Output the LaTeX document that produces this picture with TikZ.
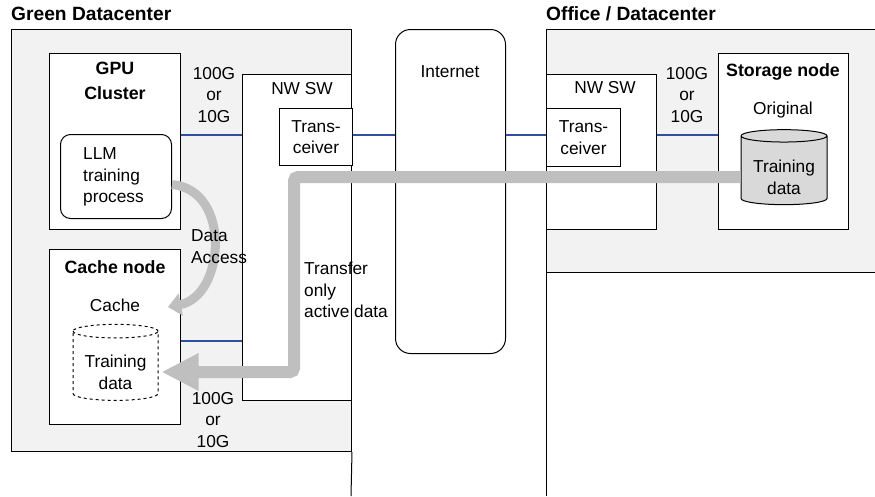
\documentclass[tikz,border=0pt]{standalone}
\usepackage{fontspec}
\setmainfont{Liberation Sans}
\usetikzlibrary{shapes.geometric,arrows.meta}
\definecolor{zonegray}{HTML}{F2F2F2}
\definecolor{linkblue}{HTML}{2F4F9F}
\definecolor{flowgray}{HTML}{BFBFBF}
\definecolor{datagray}{HTML}{D9D9D9}

\begin{document}
\begin{tikzpicture}[x=1pt, y=-1pt,
		zone/.style={draw, line width=1pt, fill=zonegray, anchor=north west, inner sep=0pt},
		box/.style={draw, line width=1pt, fill=white, anchor=north west, inner sep=0pt},
		db/.style={cylinder, shape border rotate=90, draw, line width=1pt, inner sep=0pt, align=center,
			font=\fontsize{17.3}{21.7}\selectfont},
		lbl/.style={font=\fontsize{17.3}{21.7}\selectfont, align=center, inner sep=0pt},
		hd/.style={font=\bfseries\fontsize{17.8}{25}\selectfont, align=center, inner sep=0pt},
		link/.style={draw=linkblue, line width=1.2pt},
		flow/.style={draw=flowgray, line width=12pt, rounded corners=4pt}
	]
			\useasboundingbox (0,0) rectangle (875,496);
			
			\node[zone, minimum width=340, minimum height=422] (green) at (11,29) {};
			\node[zone, minimum width=331, minimum height=243] (office) at (546,29) {};
			\draw[line width=1pt] (green.south east) -- (351,496);
			\draw[line width=1pt] (office.south west) -- (546,496);
			\node[font=\bfseries\fontsize{19.2}{22}\selectfont, anchor=west, inner sep=0pt] (greent) at (11,14) {Green Datacenter};
			\node[font=\bfseries\fontsize{19.2}{22}\selectfont, anchor=west, inner sep=0pt] (officet) at (546,14) {Office / Datacenter};
			
			\node[box, minimum width=109, minimum height=326] (sw1) at (242,74) {};
			\node[box, minimum width=73, minimum height=57] (tr1) at (279,108) {};
			\node[box, rounded corners=15pt, minimum width=110, minimum height=324] (inet) at (395,29) {};
			\node[box, minimum width=110, minimum height=155] (sw2) at (546,74) {};
			\node[box, minimum width=74, minimum height=58] (tr2) at (546,108) {};
			
			\node[box, minimum width=131, minimum height=176] (gpu) at (49,53) {};
			\node[box, rounded corners=10pt, minimum width=111, minimum height=84] (llm) at (60,134) {};
			\node[box, minimum width=131, minimum height=175] (cache) at (49,249) {};
			\node[box, minimum width=130, minimum height=176] (stor) at (718,53) {};
			
			\node[db, fill=datagray, aspect=0.2, minimum width=86, minimum height=75] (odata) at (784,170.5) {\phantom{Training}\\\phantom{data}};
			\node[db, dashed, fill=white, aspect=0.22, minimum width=85, minimum height=76] (cdata) at (115.5,366) {\phantom{Training}\\\phantom{data}};
			
			\draw[link] (gpu.east |- 0,135) -- (sw1.west |- 0,135);
			\draw[link] (tr1.east |- 0,135) -- (inet.west |- 0,135);
			\draw[link] (inet.east |- 0,135) -- (tr2.west |- 0,135);
			\draw[link] (sw2.east |- 0,135) -- (stor.west |- 0,135);
			\draw[link] (cache.east |- 0,341) -- (sw1.west |- 0,341);
			
			\coordinate (cachein) at (168,307);
			\draw[flow, line width=9pt, -{Triangle[length=13pt,width=22pt]}] ([yshift=-8pt]llm.east) .. controls (232,190) and (225,296) .. (cachein);
			\draw[flow, -{Triangle[length=37pt,width=35pt]}] ([yshift=-6.5pt]odata.west) -| (294,372) -- ([xshift=3pt,yshift=-6pt]cdata.east);
			
			\node[hd] (gput) at (115,81) {GPU\\Cluster};
			\node[lbl, anchor=west, align=left] (llmt) at (83,177) {LLM\\training\\process};
			\node[hd] (cachet) at (115,267) {Cache node};
			\node[lbl] (cachel) at (115,305) {Cache};
			\node[lbl] (cdatat) at ([yshift=-6pt]cdata.center) {Training\\data};
			\node[hd] (stort) at (783,72) {Storage node};
			\node[lbl] (origl) at (783,110) {Original};
			\node[lbl] (odatat) at ([yshift=-7pt]odata.center) {Training\\data};
			\node[lbl] (sw1t) at (302,89) {NW SW};
			\node[lbl] (sw2t) at (605,88) {NW SW};
			\node[lbl] (tr1t) at (tr1) {Trans-\\ceiver};
			\node[lbl] (tr2t) at (tr2) {Trans-\\ceiver};
			\node[lbl] (inett) at (450,72) {Internet};
			\node[lbl] (bw1) at (214,95) {100G\\or\\10G};
			\node[lbl] (bw2) at (687,95) {100G\\or\\10G};
			\node[lbl] (bw3) at (213,420) {100G\\or\\10G};
			\node[lbl, anchor=west, align=left] (accl) at (191,246.5) {Data\\Access};
			\node[lbl, anchor=west, align=left] (xferl) at (304,290) {Transfer\\only\\active data};
		\end{tikzpicture}
\end{document}
